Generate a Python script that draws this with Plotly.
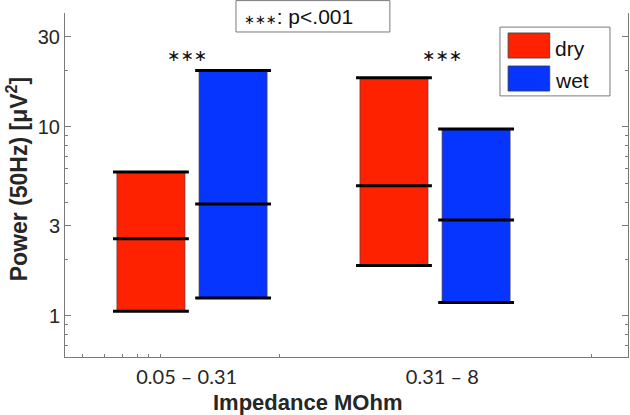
import math
import plotly.graph_objects as go

# ---- data ----
categories = ["0.05 – 0.31", "0.31 – 8"]
series_names = ["dry", "wet"]
dry_low = [1.06, 1.85]
dry_mid = [2.56, 4.89]
dry_high = [5.78, 18.2]
wet_low = [1.245, 1.18]
wet_mid = [3.91, 3.22]
wet_high = [19.9, 9.76]
y_tickvals = [1, 3, 10, 30]
y_ticktext = ["1", "3", "10", "30"]
y_minor = [0.7, 0.8, 0.9, 2, 4, 5, 6, 7, 8, 9, 20]
sig_labels = ["∗∗∗", "∗∗∗"]
sig_level = 24
note_stars = "∗∗∗"
note_text = ": p<.001"

# ---- layout constants ----
group_x = [0, 1]
label_shift = [-0.022, 0.03]
bar_w = 0.28
bar_off = 0.169
cap_half = 0.156
colors = {"dry": "#FF2200", "wet": "#0535FF"}

fig = go.Figure()

series = [
    ("dry", dry_low, dry_mid, dry_high, -bar_off),
    ("wet", wet_low, wet_mid, wet_high, bar_off),
]
for name, lo, mid, hi, off in series:
    xs = [g + off for g in group_x]
    fig.add_trace(go.Bar(
        x=xs, y=[h - l for h, l in zip(hi, lo)], base=lo, width=bar_w,
        marker=dict(color=colors[name], line=dict(color="rgba(90,60,60,0.7)", width=1)),
        name=name, showlegend=False, hoverinfo="skip"))
    lx, ly = [], []
    for x, a, b, c in zip(xs, lo, mid, hi):
        for v in (a, b, c):
            lx += [x - cap_half, x + cap_half, None]
            ly += [v, v, None]
    fig.add_trace(go.Scatter(x=lx, y=ly, mode="lines",
                             line=dict(color="black", width=3),
                             showlegend=False, hoverinfo="skip"))

axis_col = "#7a7a7a"
tick_font = dict(family="Liberation Sans, Arial, sans-serif", size=20, color="#262626")

fig.update_layout(
    width=630, height=415,
    margin=dict(l=65, r=2, t=13, b=58, autoexpand=False),
    paper_bgcolor="white", plot_bgcolor="white",
    barmode="overlay",
    xaxis=dict(
        range=[-0.5226, 1.794], showgrid=False, zeroline=False, automargin=False,
        showline=True, linecolor=axis_col, linewidth=1, mirror=False,
        tickmode="array",
        tickvals=[g + s for g, s in zip(group_x, label_shift)],
        ticktext=categories, ticks="",
        tickfont=dict(family="Lato, Open Sans, sans-serif", size=20, color="#262626"),
        ticklabelstandoff=2,
        minor=dict(tickvals=[-0.449, -0.362, -0.288, -0.226, -0.177, -0.128, 0.358, 1.642],
                   ticks="inside", ticklen=3, tickcolor=axis_col, showgrid=False),
    ),
    yaxis=dict(
        type="log", range=[-0.217, 1.603], showgrid=False, zeroline=False, automargin=False,
        showline=True, linecolor=axis_col, linewidth=1, mirror="ticks",
        tickmode="array", tickvals=y_tickvals, ticktext=y_ticktext,
        ticks="inside", ticklen=6, tickcolor=axis_col,
        tickfont=tick_font,
        minor=dict(tickvals=y_minor, ticks="inside", ticklen=3,
                   tickcolor=axis_col, showgrid=False),
    ),
)

bold_y = dict(family="Liberation Sans, Arial, sans-serif", size=23, color="#262626", weight="bold")
bold_x = dict(family="Liberation Sans, Arial, sans-serif", size=22, color="#262626", weight="bold")
annotations = [
    dict(text="Power (50Hz) [μV<sup>2</sup>]", xref="paper", yref="paper",
         x=-0.085, y=0.517, xanchor="center", yanchor="middle", textangle=-90,
         showarrow=False, font=bold_y),
    dict(text="Impedance MOhm", xref="paper", yref="paper",
         x=0.4307, y=-0.131, xanchor="center", yanchor="middle",
         showarrow=False, font=bold_x),
    dict(text=f"<span style='font-family:DejaVu Sans;font-size:13px'>{note_stars}</span>{note_text}",
         xref="paper", yref="paper", x=0.314, y=0.99,
         xanchor="left", yanchor="middle", showarrow=False,
         font=dict(family="Liberation Sans, Arial, sans-serif", size=21, color="#111")),
]
for g, s, lab in zip(group_x, label_shift, sig_labels):
    annotations.append(dict(text=lab, x=g + s, y=math.log10(sig_level),
                            xref="x", yref="y", showarrow=False,
                            xanchor="center", yanchor="middle",
                            font=dict(family="DejaVu Sans, sans-serif", size=16, color="#111")))

# custom legend
leg_text_y = [0.898, 0.805]
leg_patch = [(0.942, 0.869), (0.846, 0.773)]
shapes = [
    dict(type="rect", xref="paper", yref="paper", x0=0.3037, x1=0.577, y0=0.9448, y1=1.036,
         line=dict(color=axis_col, width=1), fillcolor="white", layer="above"),
    dict(type="rect", xref="paper", yref="paper", x0=0.7726, x1=0.968, y0=0.759, y1=0.959,
         line=dict(color=axis_col, width=1), fillcolor="white", layer="above"),
]
for name, (y1, y0), ty in zip(series_names, leg_patch, leg_text_y):
    shapes.append(dict(type="rect", xref="paper", yref="paper", x0=0.787, x1=0.861,
                       y0=y0, y1=y1, fillcolor=colors[name],
                       line=dict(color="rgba(60,60,60,0.8)", width=1), layer="above"))
    annotations.append(dict(text=name, xref="paper", yref="paper", x=0.866, y=ty,
                            xanchor="left", yanchor="middle", showarrow=False,
                            font=dict(family="Liberation Sans, Arial, sans-serif",
                                      size=21, color="#111")))

fig.update_layout(annotations=annotations, shapes=shapes)
fig.write_html("out.html", config={"displayModeBar": False},
               post_script="document.body.style.margin='0';document.body.style.overflow='hidden';")
